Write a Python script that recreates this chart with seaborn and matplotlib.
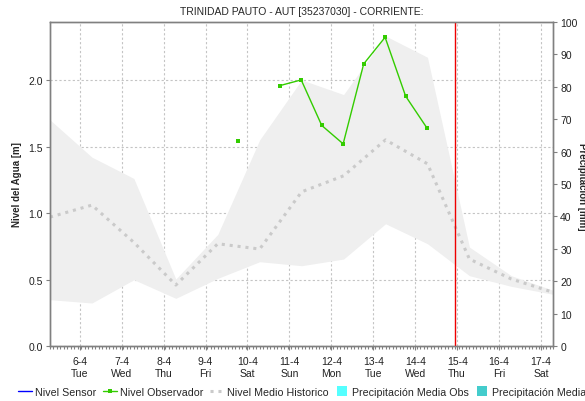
import matplotlib
matplotlib.use("Agg")
import matplotlib.pyplot as plt
import matplotlib.dates as mdates
from matplotlib.lines import Line2D
from matplotlib.ticker import MultipleLocator, FuncFormatter
import numpy as np
import pandas as pd
import seaborn as sns

# Historic daily statistics (sampled at 07:00 each day)
hist_dates = pd.date_range("2021-04-05 07:00", "2021-04-17 07:00", freq="D")
hist_upper = [1.70, 1.42, 1.26, 0.505, 0.84, 1.55, 2.00, 1.89, 2.33, 2.17, 0.745, 0.53, 0.42]
hist_lower = [0.35, 0.325, 0.50, 0.36, 0.51, 0.635, 0.605, 0.655, 0.92, 0.77, 0.53, 0.45, 0.39]
hist_mean = [0.97, 1.06, 0.78, 0.46, 0.77, 0.73, 1.16, 1.28, 1.55, 1.37, 0.655, 0.505, 0.405]

# Observer readings (morning / evening); NaN marks a missing reading
obs_times = pd.to_datetime([
    "2021-04-09 18:30", "2021-04-10 06:45", "2021-04-10 18:30", "2021-04-11 06:45",
    "2021-04-11 18:30", "2021-04-12 06:45", "2021-04-12 18:30", "2021-04-13 06:45",
    "2021-04-13 18:30", "2021-04-14 06:45",
])
obs_level = [1.543, np.nan, 1.957, 2.00, 1.658, 1.52, 2.12, 2.32, 1.878, 1.638]

# Sensor series (no data in this window)
sensor_times = pd.to_datetime([])
sensor_level = []

now_marker = pd.Timestamp("2021-04-14 23:00")
x_start = pd.Timestamp("2021-04-05 07:00")
x_end = pd.Timestamp("2021-04-17 07:00")

hist = pd.DataFrame({"fecha": hist_dates, "upper": hist_upper,
                     "lower": hist_lower, "mean": hist_mean})
obs = pd.DataFrame({"fecha": obs_times, "nivel": obs_level})
# a gap in the readings starts a new segment of the line
obs["tramo"] = obs["nivel"].isna().cumsum()
obs = obs.dropna()

sns.set_style("white")
plt.rcParams["font.family"] = ["Liberation Sans", "DejaVu Sans"]

GREEN = "#33cc00"
MEAN_GRAY = "#cacaca"

fig = plt.figure(figsize=(5.85, 4.02), dpi=100)
ax = fig.add_axes([50 / 585, 1 - 347.3 / 402, (553.3 - 50) / 585, (347.3 - 22.7) / 402])

grid_kw = dict(color="#c4c4c4", linestyle=(0, (2, 2)), linewidth=0.8)

ax.fill_between(hist["fecha"], hist["lower"], hist["upper"], color="#efefef", lw=0, zorder=1)
sns.lineplot(data=hist, x="fecha", y="mean", ax=ax, color=MEAN_GRAY, lw=2.2,
             linestyle=(0, (1, 1.6)), zorder=2)
sns.lineplot(data=obs, x="fecha", y="nivel", units="tramo", estimator=None, ax=ax,
             color=GREEN, lw=1.0, marker="s", markersize=3, markeredgewidth=0, zorder=4)
ax.plot(sensor_times, sensor_level, color="#0000ff", lw=1)
ax.axvline(now_marker, color="#ee0000", lw=1.0, zorder=5)

ax.set_xlim(x_start, x_end)
ax.set_ylim(0, 2.437)
ax.yaxis.set_major_locator(MultipleLocator(0.5))
ax.yaxis.set_major_formatter(FuncFormatter(lambda v, p: f"{v:.1f}"))
ax.xaxis.set_major_locator(mdates.DayLocator())
ax.xaxis.set_major_formatter(FuncFormatter(
    lambda v, p: mdates.num2date(v).strftime("%-d-%-m\n%a")))
ax.xaxis.set_minor_locator(mdates.HourLocator(interval=2))
ax.grid(True, which="major", **grid_kw)
for gl in ax.get_xgridlines() + ax.get_ygridlines():
    gl.set_zorder(1.5)

for s in ax.spines.values():
    s.set_color("#808080")
    s.set_linewidth(1.0)
ax.tick_params(axis="y", which="major", direction="out", length=3, width=0.8,
               color="#808080", labelsize=7.5, labelcolor="#222222", pad=2, left=True)
ax.tick_params(axis="x", which="major", direction="out", length=3, width=0.8,
               color="#808080", labelsize=7.5, labelcolor="#222222", pad=4, bottom=True)
ax.tick_params(axis="x", which="minor", direction="out", length=2, width=0.8,
               color="#808080", bottom=True)
ax.set_xlabel("")
ax.set_ylabel("Nivel del Agua [m]", fontsize=7, fontweight="bold", labelpad=5)

ax2 = ax.twinx()
ax2.set_ylim(0, 100)
ax2.yaxis.set_major_locator(MultipleLocator(10))
ax2.tick_params(axis="y", direction="out", length=3, width=0.8, color="#808080",
                labelsize=7.5, labelcolor="#222222", pad=2, right=True)
for s in ax2.spines.values():
    s.set_color("#808080")
    s.set_linewidth(1.0)
ax2.set_ylabel("")
fig.text(582 / 585, 1 - 187 / 402, "Precipitación [mm]", rotation=270,
         fontsize=7, fontweight="bold", ha="center", va="center")

fig.text(302 / 585, 1 - 12 / 402, "TRINIDAD PAUTO - AUT [35237030] - CORRIENTE:",
         fontsize=7.5, ha="center", va="center")

handles = [
    Line2D([], [], color="#0000ff", lw=1),
    Line2D([], [], color=GREEN, lw=1, marker="s", ms=3, mew=0),
    Line2D([], [], color=MEAN_GRAY, lw=2.2, linestyle=(0, (1, 1.6))),
    Line2D([], [], ls="none", marker="s", ms=7.5, mew=0, color="#55ffff"),
    Line2D([], [], ls="none", marker="s", ms=7.5, mew=0, color="#44cccc"),
]
labels = ["Nivel Sensor", "Nivel Observador", "Nivel Medio Historico",
          "Precipitación Media Obs", "Precipitación Media Pronosticada"]
fig.legend(handles, labels, loc="center left", bbox_to_anchor=(18 / 585, 1 - 393 / 402),
           ncol=5, frameon=False, fontsize=7.7, handlelength=1.3, handletextpad=0.3,
           columnspacing=0.6, borderaxespad=0, borderpad=0, handleheight=0.9)

fig.savefig("out.png", dpi=100)
